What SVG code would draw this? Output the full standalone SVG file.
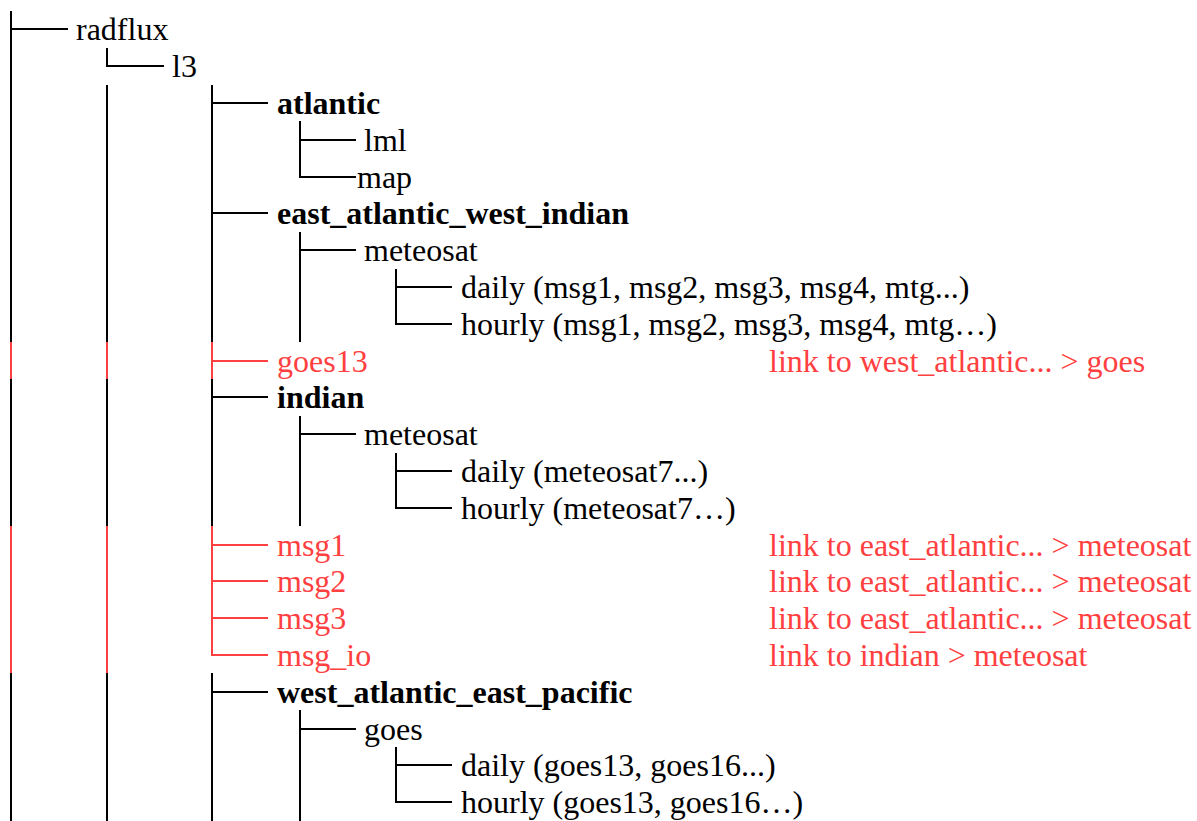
<svg xmlns="http://www.w3.org/2000/svg" width="1197" height="821" viewBox="0 0 1197 821">
<style>
text{font-family:"Liberation Serif","Times New Roman",serif;font-size:32px;fill:#000}
text.b{font-weight:bold}
text.r{fill:#ff4040}
.k{stroke:#000;stroke-width:2;fill:none}
.rd{stroke:#ff4040;stroke-width:2;fill:none}
</style>
<rect width="1197" height="821" fill="#fff"/>
<g id="connectors">
<path class="k" d="M11 11V342M11 379V526M11 673V821M11 29H68"/>
<path class="rd" d="M11 342V379M11 526V673"/>
<path class="k" d="M107 48V66H164M107 85V342M107 379V526M107 673V821"/>
<path class="rd" d="M107 342V379M107 526V673"/>
<path class="k" d="M212 85V342M212 379V526M212 673V821"/>
<path class="k" d="M212 103H268M212 213H268M212 397H268M212 692H268"/>
<path class="rd" d="M212 342V379M212 361H268M212 526V655H268M212 545H268M212 581H268M212 618H268"/>
<path class="k" d="M300 121V177H356M300 140H356"/>
<path class="k" d="M300 232V342M300 250H356"/>
<path class="k" d="M300 416V526M300 434H356"/>
<path class="k" d="M300 710V821M300 729H356"/>
<path class="k" d="M396 269V324H452M396 287H452"/>
<path class="k" d="M396 453V508H452M396 471H452"/>
<path class="k" d="M396 747V802H452M396 765H452"/>
</g>
<g id="n-radflux"><text x="76" y="40.3">radflux</text></g>
<g id="n-l3"><text x="172" y="77.1">l3</text></g>
<g id="n-atlantic"><text class="b" x="277" y="113.9">atlantic</text></g>
<g id="n-atlantic-lml"><text x="364" y="150.7">lml</text></g>
<g id="n-atlantic-map"><text x="357" y="187.5">map</text></g>
<g id="n-eawi"><text class="b" x="277" y="224.3">east_atlantic_west_indian</text></g>
<g id="n-eawi-meteosat"><text x="364" y="261.1">meteosat</text></g>
<g id="n-eawi-daily"><text x="461" y="297.9">daily (msg1, msg2, msg3, msg4, mtg...)</text></g>
<g id="n-eawi-hourly"><text x="461" y="334.7">hourly (msg1, msg2, msg3, msg4, mtg…)</text></g>
<g id="n-goes13"><text class="r" x="277" y="371.5">goes13</text><text class="r" x="769" y="371.5">link to west_atlantic... &gt; goes</text></g>
<g id="n-indian"><text class="b" x="277" y="408.3">indian</text></g>
<g id="n-indian-meteosat"><text x="364" y="445.1">meteosat</text></g>
<g id="n-indian-daily"><text x="461" y="481.9">daily (meteosat7...)</text></g>
<g id="n-indian-hourly"><text x="461" y="518.7">hourly (meteosat7…)</text></g>
<g id="n-msg1"><text class="r" x="277" y="555.5">msg1</text><text class="r" x="769" y="555.5">link to east_atlantic... &gt; meteosat</text></g>
<g id="n-msg2"><text class="r" x="277" y="592.3">msg2</text><text class="r" x="769" y="592.3">link to east_atlantic... &gt; meteosat</text></g>
<g id="n-msg3"><text class="r" x="277" y="629.1">msg3</text><text class="r" x="769" y="629.1">link to east_atlantic... &gt; meteosat</text></g>
<g id="n-msg_io"><text class="r" x="277" y="665.9">msg_io</text><text class="r" x="769" y="665.9">link to indian &gt; meteosat</text></g>
<g id="n-waep"><text class="b" x="277" y="702.7">west_atlantic_east_pacific</text></g>
<g id="n-waep-goes"><text x="364" y="739.5">goes</text></g>
<g id="n-waep-daily"><text x="461" y="776.3">daily (goes13, goes16...)</text></g>
<g id="n-waep-hourly"><text x="461" y="813.1">hourly (goes13, goes16…)</text></g>
</svg>
